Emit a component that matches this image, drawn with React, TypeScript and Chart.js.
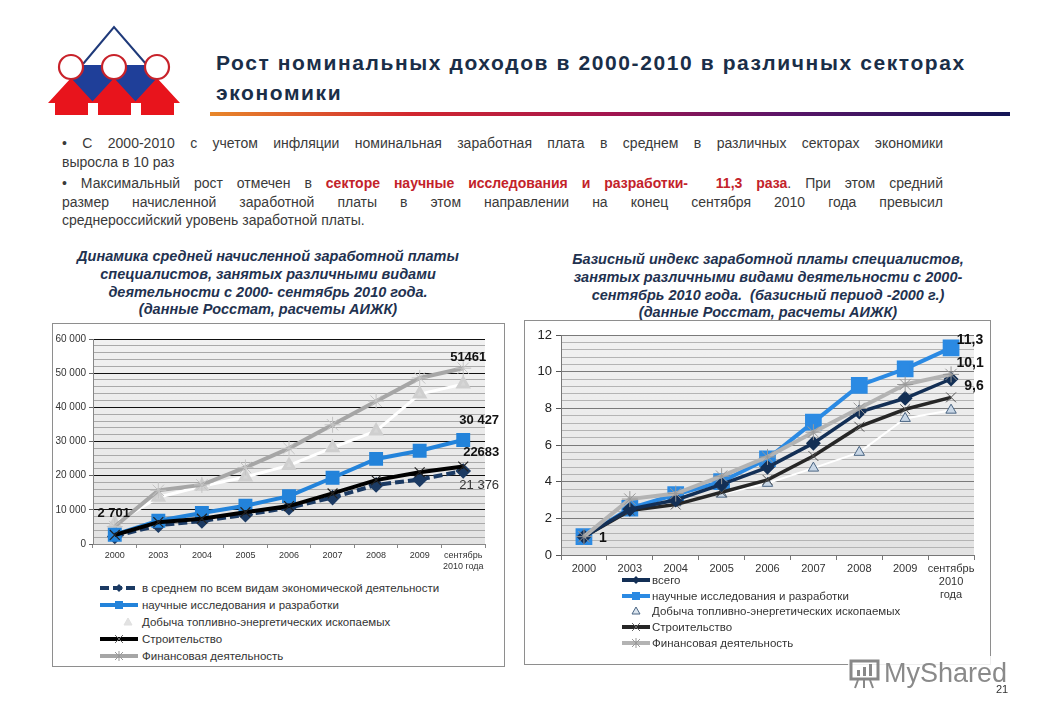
import React, { useEffect, useRef } from "react";
import { Chart, registerables } from "chart.js";

Chart.register(...registerables);

// ---------- Data ----------
const leftLabels: (string | string[])[] = ["2000", "2003", "2004", "2005", "2006", "2007", "2008", "2009", ["сентябрь", "2010 года"]];
const rightLabels: (string | string[])[] = ["2000", "2003", "2004", "2005", "2006", "2007", "2008", "2009", ["сентябрь", "2010", "года"]];

const seriesNames = [
  "в среднем по всем видам экономической деятельности",
  "научные исследования и разработки",
  "Добыча топливно-энергетических ископаемых",
  "Строительство",
  "Финансовая деятельность",
];
const rightSeriesNames = [
  "всего",
  "научные исследования и разработки",
  "Добыча топливно-энергетических ископаемых",
  "Строительство",
  "Финансовая деятельность",
];

// left chart: rubles
const wageAverage = [2223, 5500, 6740, 8550, 10630, 13590, 17290, 18900, 21376];
const wageScience = [2701, 6800, 9100, 11200, 14000, 19400, 24900, 27300, 30427];
const wageMining = [5940, 13700, 16900, 19600, 23000, 28200, 33100, 43900, 46800];
const wageConstruction = [2640, 6400, 7400, 9300, 11100, 14800, 18700, 21000, 22683];
const wageFinance = [5100, 15700, 17300, 22400, 28000, 34900, 41800, 48600, 51461];

// right chart: index (2000 = 1)
const idxTotal = [1, 2.5, 3.0, 3.85, 4.78, 6.1, 7.8, 8.55, 9.6];
const idxScience = [1, 2.55, 3.3, 4.0, 5.25, 7.25, 9.25, 10.15, 11.3];
const idxMining = [1, 2.33, 2.85, 3.32, 3.91, 4.74, 5.6, 7.45, 7.9];
const idxConstruction = [1, 2.42, 2.75, 3.42, 4.1, 5.4, 7.0, 7.95, 8.6];
const idxFinance = [1, 3.05, 3.35, 4.3, 5.35, 6.7, 8.0, 9.3, 9.85];

const leftYTicks = { min: 0, max: 60000, step: 2000, major: 10000 };
const rightYTicks = { min: 0, max: 12, step: 0.4, major: 2 };

const leftValueLabels = [
  { ds: 1, i: 0, text: "2 701", dx: -1, dy: -21, bold: true },
  { ds: 4, i: 8, text: "51461", dx: 5, dy: -11, bold: true },
  { ds: 1, i: 8, text: "30 427", dx: 16, dy: -20, bold: true },
  { ds: 3, i: 8, text: "22683", dx: 18, dy: -14, bold: true },
  { ds: 0, i: 8, text: "21 376", dx: 16, dy: 14, bold: false },
];
const rightValueLabels = [
  { ds: 1, i: 8, text: "11,3", dx: 19, dy: -8, bold: true },
  { ds: 4, i: 8, text: "10,1", dx: 19, dy: -11, bold: true },
  { ds: 0, i: 8, text: "9,6", dx: 23, dy: 7, bold: true },
  { ds: 1, i: 0, text: "1", dx: 19, dy: 1, bold: true },
];

const FONT = "'Liberation Sans', Arial, sans-serif";

// ---------- Plugins ----------
const bgPlugin = {
  id: "plotBg",
  beforeDraw(chart: any) {
    const { ctx, chartArea } = chart;
    if (!chartArea) return;
    const g = ctx.createLinearGradient(0, chartArea.top, 0, chartArea.bottom);
    g.addColorStop(0, "#f1f1f1");
    g.addColorStop(1, "#e3e3e3");
    ctx.save();
    ctx.fillStyle = g;
    ctx.fillRect(chartArea.left, chartArea.top, chartArea.right - chartArea.left, chartArea.bottom - chartArea.top);
    ctx.restore();
  },
};

function makeLabelPlugin(specs: any[], size: number) {
  return {
    id: "valueLabels",
    afterDatasetsDraw(chart: any) {
      const ctx = chart.ctx;
      ctx.save();
      ctx.textAlign = "center";
      ctx.textBaseline = "middle";
      specs.forEach((s) => {
        const el = chart.getDatasetMeta(s.ds).data[s.i];
        if (!el) return;
        ctx.font = `${s.bold ? "bold " : ""}${size}px ${FONT}`;
        ctx.fillStyle = s.bold ? "#111" : "#333";
        ctx.fillText(s.text, el.x + s.dx, el.y + s.dy);
      });
      ctx.restore();
    },
  };
}

function isMajor(v: number, major: number) {
  const r = v / major;
  return Math.abs(r - Math.round(r)) < 1e-6;
}

function fmtThousands(v: number) {
  const s = Math.round(v).toString();
  return s.replace(/\B(?=(\d{3})+(?!\d))/g, " ");
}

// ---------- Charts ----------
function LeftChart() {
  const ref = useRef<HTMLCanvasElement>(null);
  useEffect(() => {
    if (!ref.current) return;
    const chart = new Chart(ref.current, {
      type: "line",
      data: {
        labels: leftLabels as any,
        datasets: [
          {
            label: seriesNames[0],
            data: wageAverage,
            borderColor: "#1b3a63",
            borderWidth: 4,
            borderDash: [9, 4],
            pointStyle: "rectRot",
            pointRadius: 5,
            pointBackgroundColor: "#1b3a63",
            pointBorderColor: "#1b3a63",
            order: 3,
          },
          {
            label: seriesNames[1],
            data: wageScience,
            borderColor: "#2383da",
            borderWidth: 4,
            pointStyle: "rect",
            pointRadius: 7,
            pointBackgroundColor: "#2383da",
            pointBorderColor: "#2383da",
            order: 2,
          },
          {
            label: seriesNames[2],
            data: wageMining,
            borderColor: "#ffffff",
            borderWidth: 3,
            pointStyle: "triangle",
            pointRadius: 6,
            pointBackgroundColor: "#d6d6d6",
            pointBorderColor: "#cfcfcf",
            order: 6,
          },
          {
            label: seriesNames[3],
            data: wageConstruction,
            borderColor: "#000000",
            borderWidth: 4,
            pointStyle: "crossRot",
            pointRadius: 7,
            pointBorderWidth: 1.2,
            pointBorderColor: "#222",
            order: 1,
          },
          {
            label: seriesNames[4],
            data: wageFinance,
            borderColor: "#a6a6a6",
            borderWidth: 4,
            pointStyle: "star",
            pointRadius: 8,
            pointBorderWidth: 1,
            pointBorderColor: "#c4c4c4",
            order: 5,
          },
        ],
      },
      options: {
        animation: false,
        responsive: false,
        maintainAspectRatio: false,
        layout: { padding: { top: 13, right: 15, left: 0, bottom: 0 } },
        plugins: { legend: { display: false }, tooltip: { enabled: false } },
        elements: { line: { tension: 0 } },
        scales: {
          x: {
            offset: true,
            grid: { display: true, drawOnChartArea: false, offset: true, color: "#888", tickLength: 4 },
            border: { color: "#888" },
            ticks: { font: { family: FONT, size: 9 }, color: "#333", maxRotation: 0, minRotation: 0, padding: 2, autoSkip: false },
            afterFit: (s: any) => { s.height = 32; },
          },
          y: {
            min: leftYTicks.min,
            max: leftYTicks.max,
            grid: {
              color: (c: any) => (c.tick && isMajor(c.tick.value, leftYTicks.major) ? "#111" : "#a9a9a9"),
              tickColor: (c: any) => (c.tick && isMajor(c.tick.value, leftYTicks.major) ? "#666" : "rgba(0,0,0,0)"),
              tickLength: 4,
            },
            border: { color: "#888" },
            ticks: {
              stepSize: leftYTicks.step,
              autoSkip: false,
              padding: 3,
              font: { family: FONT, size: 10 },
              color: "#333",
              callback: (v: any) => (isMajor(Number(v), leftYTicks.major) ? fmtThousands(Number(v)) : ""),
            },
            afterFit: (s: any) => { s.width = 38; },
          },
        },
      } as any,
      plugins: [bgPlugin, makeLabelPlugin(leftValueLabels, 13)],
    });
    return () => chart.destroy();
  }, []);
  return <canvas ref={ref} width={445} height={250} style={{ position: "absolute", left: 55, top: 326, width: 445, height: 250 }} />;
}

function RightChart() {
  const ref = useRef<HTMLCanvasElement>(null);
  useEffect(() => {
    if (!ref.current) return;
    const chart = new Chart(ref.current, {
      type: "line",
      data: {
        labels: rightLabels as any,
        datasets: [
          {
            label: rightSeriesNames[0],
            data: idxTotal,
            borderColor: "#132f55",
            borderWidth: 3.5,
            pointStyle: "rectRot",
            pointRadius: 5,
            pointBackgroundColor: "#132f55",
            pointBorderColor: "#132f55",
            order: 2,
          },
          {
            label: rightSeriesNames[1],
            data: idxScience,
            borderColor: "#2b8ae3",
            borderWidth: 4,
            pointStyle: "rect",
            pointRadius: 9,
            pointBackgroundColor: "#2b8ae3",
            pointBorderColor: "#2b8ae3",
            order: 4,
          },
          {
            label: rightSeriesNames[2],
            data: idxMining,
            borderColor: "#ffffff",
            borderWidth: 2,
            pointStyle: "triangle",
            pointRadius: 6,
            pointBorderWidth: 1,
            pointBackgroundColor: "#c9d7e6",
            pointBorderColor: "#4a6583",
            order: 6,
          },
          {
            label: rightSeriesNames[3],
            data: idxConstruction,
            borderColor: "#262626",
            borderWidth: 3.5,
            pointStyle: "crossRot",
            pointRadius: 7,
            pointBorderWidth: 1,
            pointBorderColor: "#555",
            order: 3,
          },
          {
            label: rightSeriesNames[4],
            data: idxFinance,
            borderColor: "#b3b3b3",
            borderWidth: 4,
            pointStyle: "star",
            pointRadius: 8,
            pointBorderWidth: 1,
            pointBorderColor: "#999",
            order: 1,
          },
        ],
      },
      options: {
        animation: false,
        responsive: false,
        maintainAspectRatio: false,
        layout: { padding: { top: 10, right: 12, left: 0, bottom: 0 } },
        plugins: { legend: { display: false }, tooltip: { enabled: false } },
        elements: { line: { tension: 0 } },
        scales: {
          x: {
            offset: true,
            grid: { display: true, drawOnChartArea: false, offset: true, color: "#777", tickLength: 5 },
            border: { color: "#777" },
            ticks: { font: { family: FONT, size: 11, lineHeight: 1.15 }, color: "#333", maxRotation: 0, minRotation: 0, padding: 3, autoSkip: false },
            afterFit: (s: any) => { s.height = 53; },
          },
          y: {
            min: rightYTicks.min,
            max: rightYTicks.max,
            grid: {
              color: (c: any) => (c.tick && isMajor(c.tick.value, rightYTicks.major) ? "#7a7a7a" : "#b4b4b4"),
              tickColor: (c: any) => (c.tick && isMajor(c.tick.value, rightYTicks.major) ? "#555" : "rgba(0,0,0,0)"),
              tickLength: 5,
            },
            border: { color: "#777" },
            ticks: {
              stepSize: rightYTicks.step,
              autoSkip: false,
              padding: 4,
              font: { family: FONT, size: 13 },
              color: "#222",
              callback: (v: any) => (isMajor(Number(v), rightYTicks.major) ? String(Math.round(Number(v))) : ""),
            },
            afterFit: (s: any) => { s.width = 34; },
          },
        },
      } as any,
      plugins: [bgPlugin, makeLabelPlugin(rightValueLabels, 14)],
    });
    return () => chart.destroy();
  }, []);
  return <canvas ref={ref} width={460} height={286} style={{ position: "absolute", left: 527, top: 322, width: 460, height: 286 }} />;
}

// ---------- Legend samples ----------
function Sample({ kind, w, big }: { kind: number; w: number; big?: boolean }) {
  const c = w / 2;
  const h = 12;
  const y = 6;
  if (kind === 0) {
    return (
      <svg width={w} height={h}>
        <line x1={0} y1={y} x2={w} y2={y} stroke={big ? "#132f55" : "#1b3a63"} strokeWidth={4} strokeDasharray={big ? undefined : "9 4"} />
        <polygon points={`${c},${y - 4} ${c + 4},${y} ${c},${y + 4} ${c - 4},${y}`} fill={big ? "#132f55" : "#1b3a63"} />
      </svg>
    );
  }
  if (kind === 1) {
    return (
      <svg width={w} height={h}>
        <line x1={0} y1={y} x2={w} y2={y} stroke={big ? "#2b8ae3" : "#2383da"} strokeWidth={4} />
        <rect x={c - 4} y={y - 4} width={8} height={8} fill={big ? "#2b8ae3" : "#2383da"} />
      </svg>
    );
  }
  if (kind === 2) {
    const tx = big ? c : w - 10;
    return (
      <svg width={w} height={h}>
        <polygon
          points={`${tx},${y - 4} ${tx + 4},${y + 3} ${tx - 4},${y + 3}`}
          fill={big ? "#dbe5ef" : "#e2e2e2"}
          stroke={big ? "#4a6583" : "#e0e0e0"}
          strokeWidth={1}
        />
      </svg>
    );
  }
  if (kind === 3) {
    return (
      <svg width={w} height={h}>
        <line x1={0} y1={y} x2={w} y2={y} stroke={big ? "#262626" : "#000"} strokeWidth={4} />
        <path d={`M${c - 4},${y - 4} L${c + 4},${y + 4} M${c - 4},${y + 4} L${c + 4},${y - 4}`} stroke="#666" strokeWidth={1} />
      </svg>
    );
  }
  return (
    <svg width={w} height={h}>
      <line x1={0} y1={y} x2={w} y2={y} stroke={big ? "#b3b3b3" : "#a6a6a6"} strokeWidth={4} />
      <path d={`M${c - 4},${y - 4} L${c + 4},${y + 4} M${c - 4},${y + 4} L${c + 4},${y - 4} M${c},${y - 5} L${c},${y + 5}`} stroke="#999" strokeWidth={1} />
    </svg>
  );
}

function Legend({ names, left, top, rowH, sampleW, textGap, fontSize, big }: any) {
  return (
    <div style={{ position: "absolute", left, top }}>
      {names.map((n: string, i: number) => (
        <div key={i} style={{ display: "flex", alignItems: "center", height: rowH, whiteSpace: "nowrap" }}>
          <Sample kind={i} w={sampleW} big={big} />
          <span style={{ marginLeft: textGap, fontSize, color: "#333", fontFamily: FONT }}>{n}</span>
        </div>
      ))}
    </div>
  );
}

// ---------- Logo ----------
function Logo() {
  const red = "#e8141c";
  const blue = "#1f3f99";
  const house = (cx: number) =>
    `${cx},78 ${cx + 23},103 ${cx + 17},103 ${cx + 17},115 ${cx - 16},115 ${cx - 16},103 ${cx - 23},103`;
  return (
    <svg width={200} height={130} style={{ position: "absolute", left: 0, top: 0 }}>
      <polyline points="83,64 114,27 146,64" fill="none" stroke="#1f3a7a" strokeWidth={2} />
      <polygon points="71,65 157,65 157,80 136,103 114,80 92,103 71,80" fill={blue} />
      <polygon points={house(71)} fill={red} />
      <polygon points={house(114)} fill={red} />
      <polygon points={house(157)} fill={red} />
      <circle cx={71} cy={67} r={12} fill="#fff" stroke="#c8222a" strokeWidth={2.2} />
      <circle cx={114} cy={67} r={12} fill="#fff" stroke="#c8222a" strokeWidth={2.2} />
      <circle cx={157} cy={67} r={12} fill="#fff" stroke="#c8222a" strokeWidth={2.2} />
    </svg>
  );
}

// ---------- App ----------
const lineStyle: React.CSSProperties = { textAlign: "justify", textAlignLast: "justify" as any, height: 18.5 };

export default function App() {
  const bodyFont: React.CSSProperties = { fontFamily: FONT, fontSize: 14, color: "#3a3a3a", lineHeight: "18.5px" };
  const red = { color: "#c3222a", fontWeight: "bold" as const };
  const chartTitle: React.CSSProperties = {
    position: "absolute", width: 460, textAlign: "center", fontSize: 14.5, fontWeight: "bold",
    fontStyle: "italic", color: "#1f3250", lineHeight: "17.8px", whiteSpace: "nowrap",
  };
  return (
    <div style={{ position: "absolute", left: 0, top: 0, width: 1040, height: 720, background: "#fff", overflow: "hidden", fontFamily: FONT }}>
      <Logo />
      <div style={{ position: "absolute", left: 216, top: 48, fontSize: 21, fontWeight: "bold", letterSpacing: 1.6, lineHeight: "30px", color: "#1a2e48", whiteSpace: "nowrap" }}>
        <div>Рост номинальных доходов в 2000-2010 в различных секторах</div>
        <div>экономики</div>
      </div>
      <div style={{ position: "absolute", left: 210, top: 112, width: 800, height: 4, background: "linear-gradient(to right, #e8872a 0%, #d2262e 25%, #a3154f 50%, #5a1468 72%, #141656 100%)" }} />

      <div style={{ position: "absolute", left: 62, top: 134, width: 881, ...bodyFont }}>
        <div style={lineStyle}>• С 2000-2010 с учетом инфляции номинальная заработная плата в среднем в различных секторах экономики</div>
        <div style={{ height: 18.5 }}>выросла в 10 раз</div>
        <div style={{ height: 3 }} />
        <div style={lineStyle}>
          • Максимальный рост отмечен в <span style={red}>секторе научные исследования и разработки-&nbsp; 11,3 раза</span>. При этом средний
        </div>
        <div style={lineStyle}>размер начисленной заработной платы в этом направлении на конец сентября 2010 года превысил</div>
        <div style={{ height: 18.5 }}>среднероссийский уровень заработной платы.</div>
      </div>

      <div style={{ ...chartTitle, left: 38, top: 248 }}>
        <div>Динамика средней начисленной заработной платы</div>
        <div>специалистов, занятых различными видами</div>
        <div>деятельности с 2000- сентябрь 2010 года.</div>
        <div>(данные Росстат, расчеты АИЖК)</div>
      </div>
      <div style={{ ...chartTitle, left: 538, top: 251 }}>
        <div>Базисный индекс заработной платы специалистов,</div>
        <div>занятых различными видами деятельности с 2000-</div>
        <div>сентябрь 2010 года.&nbsp; (базисный период -2000 г.)</div>
        <div>(данные Росстат, расчеты АИЖК)</div>
      </div>

      <div style={{ position: "absolute", left: 52, top: 323, width: 451, height: 342, border: "1px solid #8e8e8e" }} />
      <div style={{ position: "absolute", left: 524, top: 320, width: 465, height: 343, border: "1px solid #8e8e8e" }} />

      <LeftChart />
      <RightChart />

      <Legend names={seriesNames} left={100} top={579} rowH={17} sampleW={38} textGap={4} fontSize={11.5} />
      <Legend names={rightSeriesNames} left={622} top={572} rowH={15.8} sampleW={28} textGap={2} fontSize={11.5} big />

      <div style={{ position: "absolute", left: 848, top: 656, display: "flex", alignItems: "center", background: "rgba(255,255,255,0.85)" }}>
        <svg width={34} height={34}>
          <rect x={3} y={5} width={27} height={18} fill="none" stroke="#888" strokeWidth={3} />
          <rect x={9} y={14} width={3} height={6} fill="#888" />
          <rect x={15} y={11} width={3} height={9} fill="#888" />
          <rect x={21} y={8} width={3} height={12} fill="#888" />
          <path d="M10,24 L7,32 M16,24 L16,32 M22,24 L25,32" stroke="#888" strokeWidth={2} />
        </svg>
        <span style={{ fontSize: 27, color: "#8a8a8a", marginLeft: 2, fontFamily: FONT }}>MyShared</span>
      </div>
      <div style={{ position: "absolute", left: 996, top: 683, fontSize: 11, color: "#333" }}>21</div>
    </div>
  );
}
